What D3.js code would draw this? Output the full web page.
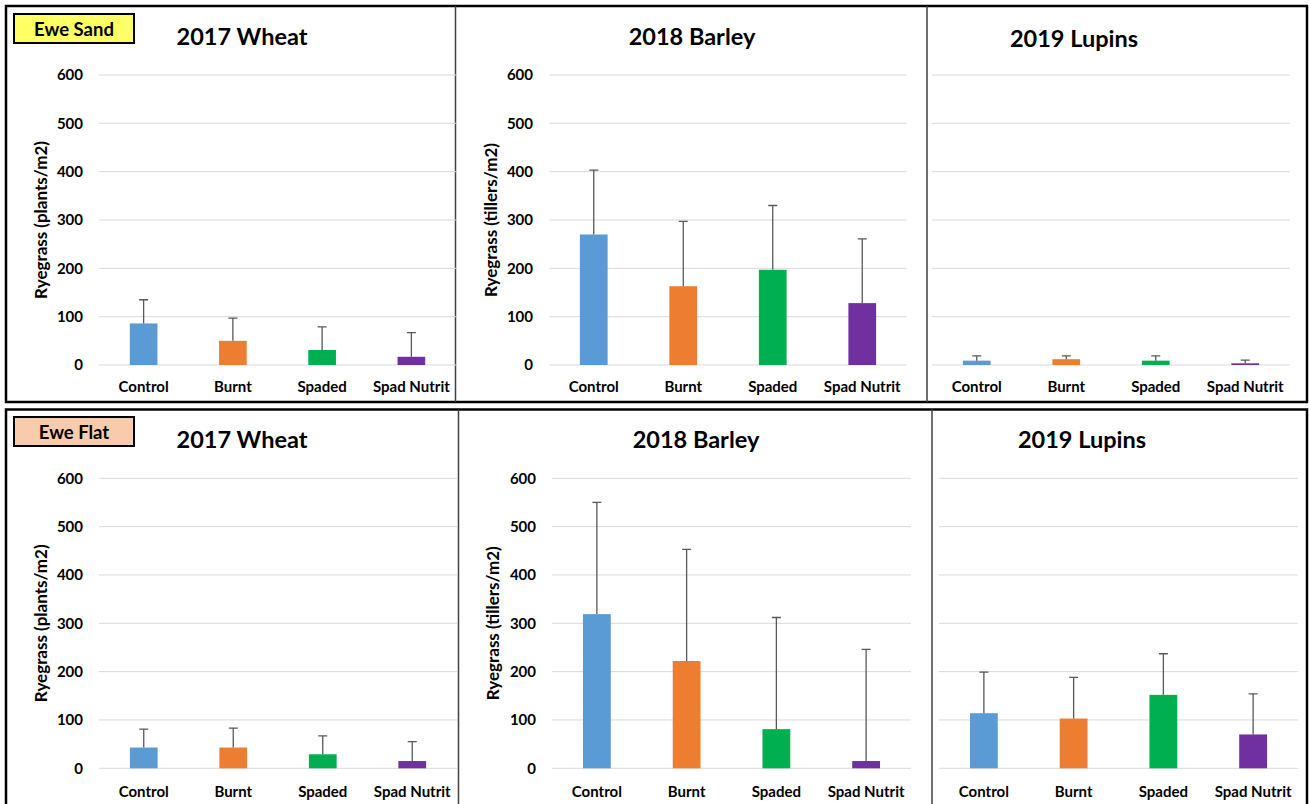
<!DOCTYPE html>
<html>
<head>
<meta charset="utf-8">
<script src="https://cdn.jsdelivr.net/npm/d3@7"></script>
<style>
    body { margin: 0; background: #fff; }
    text { font-family: Lato, "Open Sans", sans-serif; font-weight: bold; fill: #000; }
    .tick text { font-size: 15px; }
</style>
</head>
<body>
<div id="d3rep"></div>
<script>
//variables
var categories = ["Control", "Burnt", "Spaded", "Spad Nutrit"];
var yTicks = [0, 100, 200, 300, 400, 500, 600];
var barColors = ["#5b9bd5", "#ed7d31", "#00b050", "#7030a0"];

//Ewe Sand means and upper error
var sandWheat = [86, 50, 31, 17];
var sandWheatErr = [49, 47, 48, 50];
var sandBarley = [270, 163, 197, 128];
var sandBarleyErr = [133, 134, 133, 133];
var sandLupins = [9, 12, 9, 3.5];
var sandLupinsErr = [10, 7, 10, 6.5];

//Ewe Flat means and upper error
var flatWheat = [43, 43, 29, 15];
var flatWheatErr = [38, 40, 38, 40];
var flatBarley = [319, 222, 81, 15];
var flatBarleyErr = [231, 231, 231, 231];
var flatLupins = [114, 103, 152, 70];
var flatLupinsErr = [85, 85, 85, 84];

var width = 1309, height = 804;
var svg = d3.select("#d3rep").append("svg").attr("width", width).attr("height", height);

//frames round the two rows
function drawFrame(y0, h, div1, div2){
    svg.append("rect").attr("x", 6).attr("y", y0).attr("width", 1301).attr("height", h)
        .attr("fill", "none").attr("stroke", "#000").attr("stroke-width", 2.5);
    [div1, div2].forEach(function(x){
        svg.append("line").attr("x1", x).attr("x2", x).attr("y1", y0).attr("y2", y0 + h)
            .attr("stroke", "#404040").attr("stroke-width", 1.5);
    });
}
drawFrame(6, 396, 455.5, 927);
drawFrame(409.5, 400, 458.5, 932);

//site label box
function siteLabel(y0, txt, fill){
    svg.append("rect").attr("x", 14).attr("y", y0).attr("width", 120).attr("height", 29)
        .attr("fill", fill).attr("stroke", "#000").attr("stroke-width", 2);
    svg.append("text").attr("x", 74).attr("y", y0 + 21.5).attr("text-anchor", "middle")
        .style("font-size", "18.5px").text(txt);
}
siteLabel(14, "Ewe Sand", "#ffff66");
siteLabel(417, "Ewe Flat", "#f8cbad");

//D3: one bar chart panel
function makePanel(p){
    var x = d3.scaleBand().domain(categories).range([p.left, p.right])
        .paddingInner(0.69).paddingOuter(0.345);
    var y = d3.scaleLinear().domain([0, 600]).range([p.bottom, p.top]);
    var g = svg.append("g");

    //gridlines
    g.selectAll(".grid").data(yTicks).enter().append("line")
        .attr("x1", p.left).attr("x2", p.right)
        .attr("y1", function(d){ return y(d); }).attr("y2", function(d){ return y(d); })
        .attr("stroke", "#d9d9d9").attr("stroke-width", 1);

    //y axis numbers
    if (p.yLabel){
        var yA = d3.axisLeft(y).tickValues(yTicks).tickSize(0).tickPadding(16);
        g.append("g").attr("transform", "translate(" + p.left + ",0)").call(yA)
            .call(function(a){ a.select(".domain").remove(); });
        g.append("text")
            .attr("transform", "translate(" + p.yLabelX + "," + (p.top + p.bottom) / 2 + ") rotate(-90)")
            .attr("text-anchor", "middle").style("font-size", "17px").text(p.yLabel);
    }

    //x axis labels
    var xA = d3.axisBottom(x).tickSize(0);
    g.append("g").attr("transform", "translate(0," + p.bottom + ")").call(xA)
        .call(function(a){
            a.select(".domain").remove();
            a.selectAll("text").attr("y", p.xLabelY).attr("dy", 0);
        });

    //bars
    g.selectAll(".bar").data(p.values).enter().append("rect")
        .attr("x", function(d, i){ return x(categories[i]); })
        .attr("width", x.bandwidth())
        .attr("y", function(d){ return y(d); })
        .attr("height", function(d){ return y(0) - y(d); })
        .attr("fill", function(d, i){ return barColors[i]; });

    //error bars, upper side only
    var cx = function(i){ return x(categories[i]) + x.bandwidth() / 2; };
    g.selectAll(".err").data(p.values).enter().append("path")
        .attr("d", function(d, i){
            var top = y(d + p.errs[i]);
            return "M" + cx(i) + "," + y(d) + "V" + top + "M" + (cx(i) - 4.5) + "," + top + "H" + (cx(i) + 4.5);
        })
        .attr("fill", "none").attr("stroke", "#595959").attr("stroke-width", 1.3);

    //title
    g.append("text").attr("x", p.titleX).attr("y", p.titleY).attr("text-anchor", "middle")
        .style("font-size", "23.5px").text(p.title);
}

makePanel({left: 99, right: 456, top: 75, bottom: 365, values: sandWheat, errs: sandWheatErr,
    title: "2017 Wheat", titleX: 242, titleY: 45, yLabel: "Ryegrass (plants/m2)", yLabelX: 47, xLabelY: 27});
makePanel({left: 549, right: 907, top: 75, bottom: 365, values: sandBarley, errs: sandBarleyErr,
    title: "2018 Barley", titleX: 692, titleY: 45, yLabel: "Ryegrass (tillers/m2)", yLabelX: 497, xLabelY: 27});
makePanel({left: 932, right: 1290, top: 75, bottom: 365, values: sandLupins, errs: sandLupinsErr,
    title: "2019 Lupins", titleX: 1074, titleY: 47, xLabelY: 27});

makePanel({left: 99, right: 457, top: 478.3, bottom: 768.3, values: flatWheat, errs: flatWheatErr,
    title: "2017 Wheat", titleX: 242, titleY: 448, yLabel: "Ryegrass (plants/m2)", yLabelX: 47, xLabelY: 28.5});
makePanel({left: 552, right: 911, top: 478.3, bottom: 768.3, values: flatBarley, errs: flatBarleyErr,
    title: "2018 Barley", titleX: 696, titleY: 448, yLabel: "Ryegrass (tillers/m2)", yLabelX: 499, xLabelY: 28.5});
makePanel({left: 939, right: 1298, top: 478.3, bottom: 768.3, values: flatLupins, errs: flatLupinsErr,
    title: "2019 Lupins", titleX: 1082, titleY: 448, xLabelY: 28.5});
</script>
</body>
</html>
